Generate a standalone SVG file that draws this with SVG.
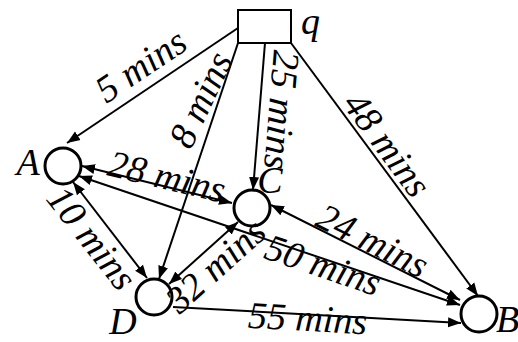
<svg xmlns="http://www.w3.org/2000/svg" width="518" height="342" viewBox="0 0 518 342">
<style>
.edge{stroke:#000;stroke-width:2;fill:none}
.node{stroke:#000;stroke-width:3;fill:#fff}
.box{stroke:#000;stroke-width:2;fill:#fff}
text{font-family:"Liberation Serif","DejaVu Serif",serif;font-style:italic;font-size:38px;fill:#000}
.lbl{text-anchor:middle}
</style>
<defs>
<marker id="arr" markerUnits="userSpaceOnUse" markerWidth="14" markerHeight="12" refX="13" refY="5" orient="auto-start-reverse" viewBox="0 0 14 10">
<path d="M0,0 L13,5 L0,10 z" fill="#000"/>
</marker>
</defs>
<g id="connectors">
<line class="edge" x1="238" y1="28" x2="67" y2="143" marker-end="url(#arr)"/>
<line class="edge" x1="238" y1="43" x2="159" y2="279" marker-end="url(#arr)"/>
<line class="edge" x1="265" y1="43" x2="253" y2="190" marker-end="url(#arr)"/>
<line class="edge" x1="291" y1="43" x2="478" y2="296" marker-end="url(#arr)"/>
<line class="edge" x1="82" y1="166" x2="232" y2="203" marker-start="url(#arr)" marker-end="url(#arr)"/>
<line class="edge" x1="79" y1="176" x2="460" y2="305" marker-start="url(#arr)" marker-end="url(#arr)"/>
<line class="edge" x1="73" y1="182" x2="147" y2="278" marker-start="url(#arr)" marker-end="url(#arr)"/>
<line class="edge" x1="238" y1="222" x2="169" y2="284" marker-start="url(#arr)" marker-end="url(#arr)"/>
<line class="edge" x1="271" y1="205" x2="460" y2="300" marker-start="url(#arr)" marker-end="url(#arr)"/>
<line class="edge" x1="173" y1="307" x2="461" y2="323" marker-end="url(#arr)"/>
</g>
<g id="node-q">
<rect class="box" x="238" y="10" width="53" height="33"/>
<text x="301" y="34">q</text>
</g>
<g id="node-A">
<circle class="node" cx="63" cy="166" r="18"/>
<text class="lbl" x="28" y="175">A</text>
</g>
<g id="node-C">
<circle class="node" cx="252" cy="208" r="18"/>
<text class="lbl" x="270" y="193">C</text>
</g>
<g id="node-D">
<circle class="node" cx="154" cy="297" r="18"/>
<text class="lbl" x="123" y="334">D</text>
</g>
<g id="node-B">
<circle class="node" cx="479" cy="314" r="18"/>
<text x="496" y="332">B</text>
</g>
<g id="edge-labels">
<text class="lbl" x="148" y="76" transform="rotate(-33.9 148 76)">5 mins</text>
<text class="lbl" x="212" y="105" transform="rotate(-65 212 105)">8 mins</text>
<text class="lbl" x="269" y="109" transform="rotate(94.7 269 109)">25 mins</text>
<text class="lbl" x="377" y="152" transform="rotate(53.5 377 152)">48 mins</text>
<text class="lbl" x="164" y="189" transform="rotate(13.5 164 189)">28 mins</text>
<text class="lbl" x="319" y="277" transform="rotate(18.8 319 277)">50 mins</text>
<text class="lbl" x="82" y="246" transform="rotate(51.8 82 246)">10 mins</text>
<text class="lbl" x="224" y="275" transform="rotate(-42 224 275)">32 mins</text>
<text class="lbl" x="367" y="252" transform="rotate(26.7 367 252)">24 mins</text>
<text class="lbl" x="307" y="331" transform="rotate(3.2 307 331)">55 mins</text>
</g>
</svg>
